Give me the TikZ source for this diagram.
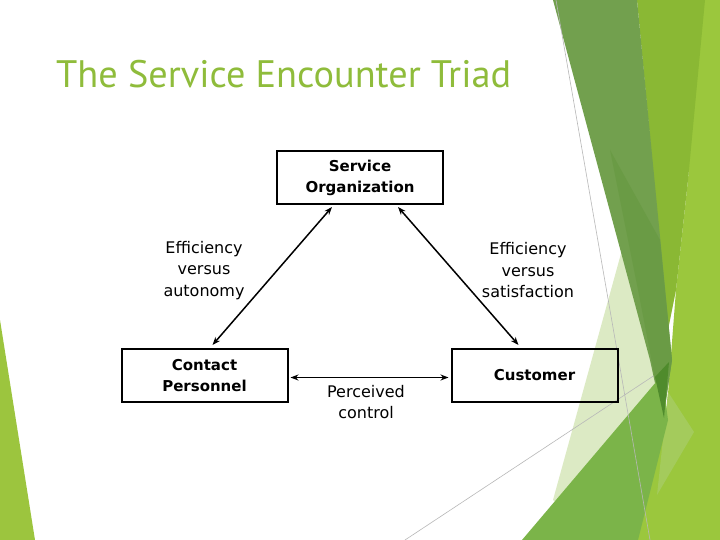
\documentclass[tikz,border=0pt]{standalone}
\usepackage{fontspec}
\setmainfont{DejaVu Sans}
\newfontfamily\titlefont{PT Sans}
\usetikzlibrary{arrows.meta,calc}
\definecolor{titlegreen}{HTML}{8FBC3B}
\definecolor{leftgreen}{HTML}{9CC53E}
\definecolor{darkband}{HTML}{72A04E}
\definecolor{darkerband}{HTML}{6A9B45}
\definecolor{midband}{HTML}{8AB834}
\definecolor{brightgreen}{HTML}{9BC73D}
\definecolor{palegreen}{HTML}{DCEAC4}
\definecolor{medgreen}{HTML}{7BB449}
\definecolor{sliver}{HTML}{4F8B2C}
\definecolor{lightstrip}{HTML}{A4CB5C}
\definecolor{thinline}{HTML}{B8B8B8}
\tikzset{
  box/.style={draw=black, line width=2pt, minimum width=166pt, minimum height=53pt, inner sep=0pt, align=center, font=\bfseries\fontsize{15}{21}\selectfont},
  lbl/.style={align=center, inner sep=0pt, font=\fontsize{16}{21.5}\selectfont},
  arr/.style={line width=1.5pt, {Stealth[length=8pt,width=6pt]}-{Stealth[length=8pt,width=6pt]}}
}
\begin{document}
\begin{tikzpicture}[x=1pt,y=-1pt]
\useasboundingbox (0,0) rectangle (720,540);
\fill[white] (0,0) rectangle (720,540);
% background facets
\fill[leftgreen] (0,320) -- (35,540) -- (0,540) -- cycle;
\fill[palegreen] (622,250) -- (670,420) -- (610,540) -- (553,500) -- cycle;
\draw[thinline, line width=0.6pt] (405,540) -- (720,332);
\fill[brightgreen] (700,0) -- (720,0) -- (720,540) -- (632,540) -- (666,420) -- (676,290) -- (688,180) -- cycle;
\fill[midband] (637,0) -- (705,0) -- (688,180) -- (676,290) -- (668,330) -- cycle;
\fill[darkband] (553,0) -- (637,0) -- (672,360) -- (663,420) -- (650,360) -- cycle;
\fill[darkerband] (610,150) -- (660,240) -- (672,360) -- (663,420) -- (640,300) -- cycle;
\fill[lightstrip] (668,392) -- (694,432) -- (657,495) -- cycle;
\fill[medgreen] (522,540) -- (662,375) -- (668,420) -- (638,540) -- cycle;
\fill[sliver] (655,377) -- (669,362) -- (664,418) -- cycle;
\draw[thinline, line width=0.6pt] (556,0) -- (650,540);
% title
\node[anchor=west, inner sep=0pt, text=titlegreen, font=\titlefont\fontsize{38.3}{42}\selectfont] (title) at (56,74) {The Service Encounter Triad};
% boxes
\node[box] (so) at (360,177.5) {Service\\Organization};
\node[box] (cp) at (204.5,375.5) {Contact\\Personnel};
\node[box] (cu) at (534.5,375.5) {Customer};
% labels
\node[lbl] (l1) at (204,270.5) {Efficiency\\versus\\autonomy};
\node[lbl] (l2) at (528,270.5) {Efficiency\\versus\\satisfaction};
\node[lbl] (l3) at (366,402) {Perceived\\control};
% connectors
\draw[arr] ([xshift=8pt,yshift=3pt]cp.north) -- ([xshift=-28pt,yshift=-2pt]so.south);
\draw[arr] ([xshift=38pt,yshift=-2pt]so.south) -- ([xshift=-16pt,yshift=3pt]cu.north);
\draw[arr] ([xshift=2pt,yshift=-2pt]cp.east) -- ([xshift=-2pt,yshift=-2pt]cu.west);
\end{tikzpicture}
\end{document}
